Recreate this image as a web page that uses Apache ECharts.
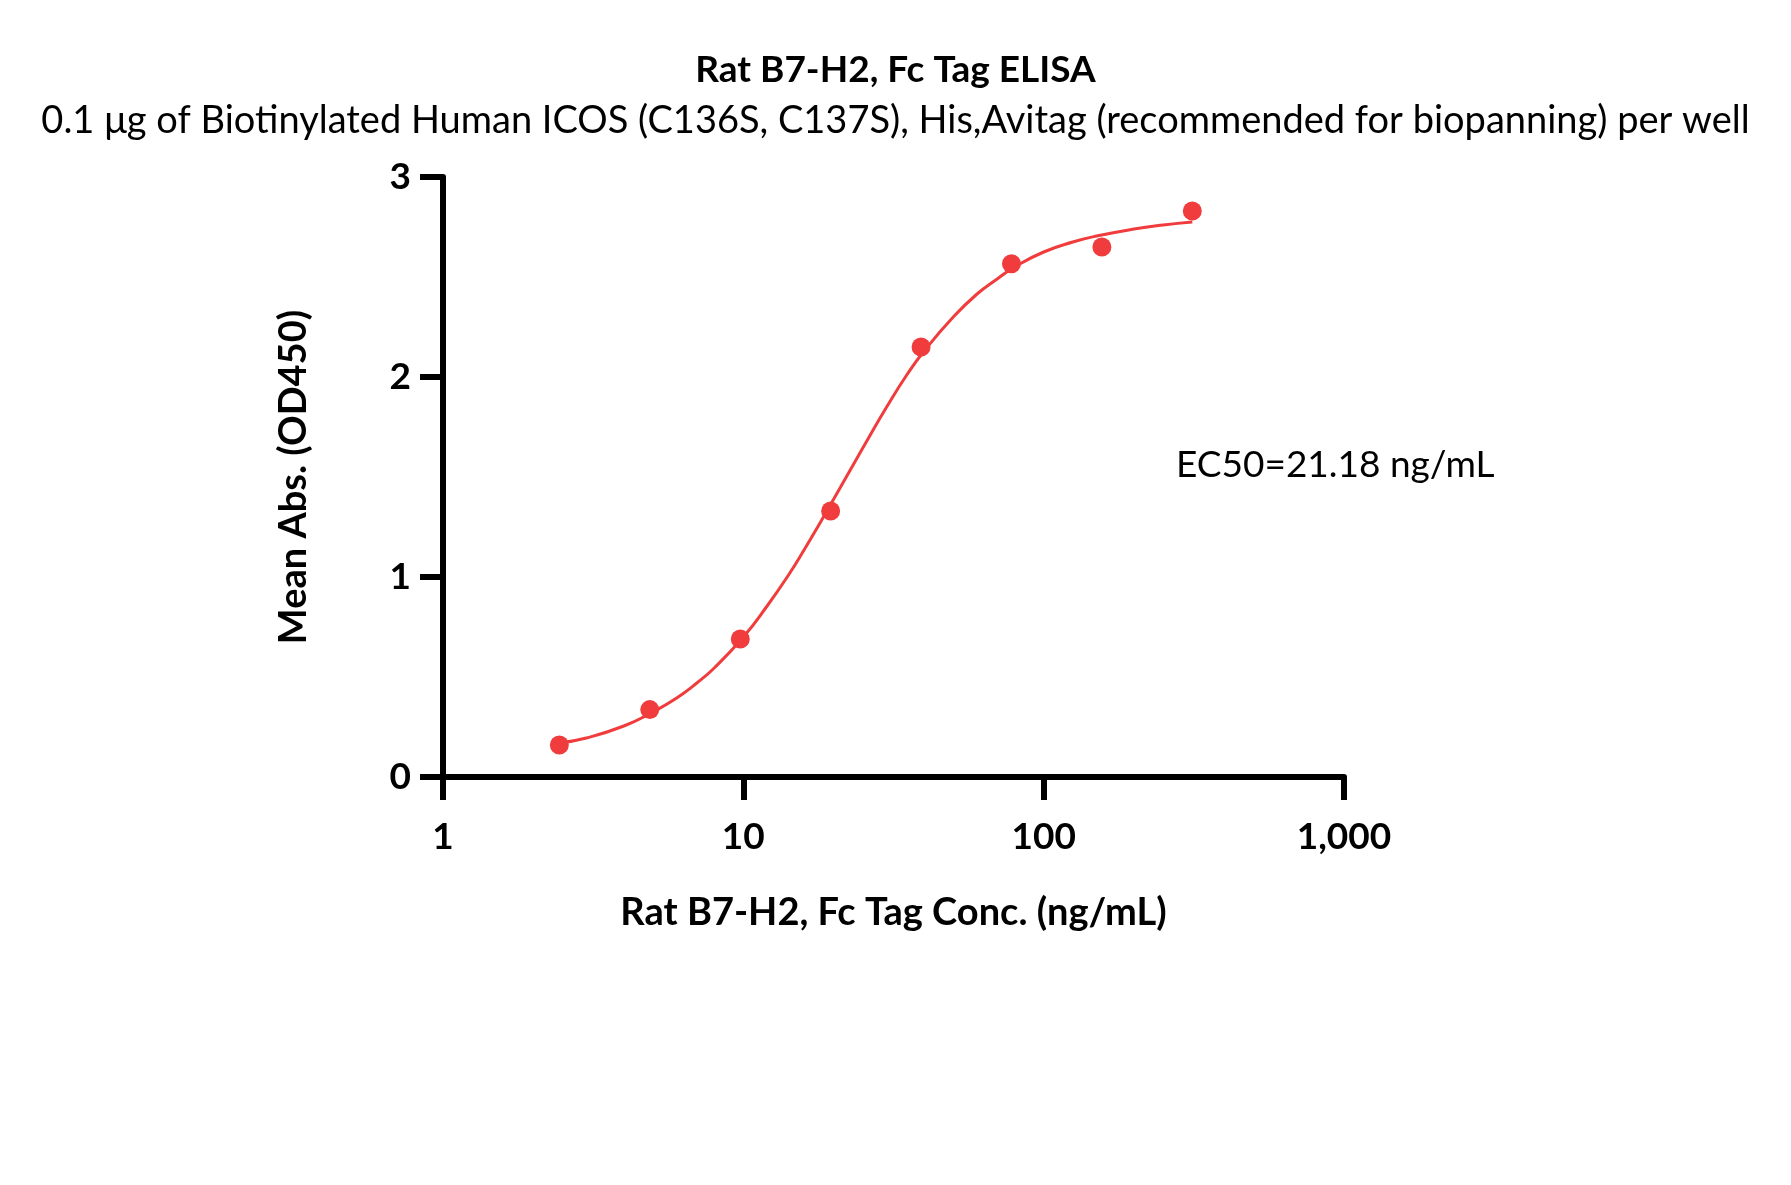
<!DOCTYPE html>
<html><head><meta charset="utf-8">
<script src="https://cdn.jsdelivr.net/npm/echarts@6/dist/echarts.min.js"></script>
<style>html,body{margin:0;padding:0;background:#fff}#c{width:1791px;height:1185px}</style>
</head><body><div id="c"></div>
<script>
// Measured points (concentration ng/mL, mean OD450)
const concentrations = [2.44, 4.88, 9.77, 19.53, 39.06, 78.13, 156.25, 312.5];
const absorbance = [0.16, 0.337, 0.69, 1.33, 2.15, 2.566, 2.65, 2.83];
// Fitted curve
const curveX = [2.44, 3, 4, 5, 6, 7, 8, 10, 12, 14, 16, 18, 20, 23, 26, 30, 35, 40, 50, 60, 70, 80, 100, 125, 150, 200, 250, 312.5];
const curveY = [0.17, 0.195, 0.255, 0.325, 0.395, 0.47, 0.545, 0.70, 0.855, 1.0, 1.14, 1.27, 1.39, 1.55, 1.69, 1.85, 2.01, 2.13, 2.30, 2.415, 2.49, 2.55, 2.625, 2.675, 2.705, 2.74, 2.76, 2.775];
const xTicks = [1, 10, 100, 1000];
const yTicks = [0, 1, 2, 3];
const titleText = 'Rat B7-H2, Fc Tag ELISA';
const subtitleText = '0.1 \u03bcg of Biotinylated Human ICOS (C136S, C137S), His,Avitag (recommended for biopanning) per well';
const xName = 'Rat B7-H2, Fc Tag Conc. (ng/mL)';
const yName = 'Mean Abs. (OD450)';
const ec50Text = 'EC50=21.18 ng/mL';

const RED = '#F03C3C';
const FONT = 'Lato, "Open Sans", sans-serif';
const chart = echarts.init(document.getElementById('c'));
chart.setOption({
  backgroundColor: '#fff',
  animation: false,
  title: [
    {text: titleText, left: 'center', top: 47, textStyle: {fontFamily: FONT, fontSize: 37, fontWeight: 'bold', color: '#000'}},
    {text: subtitleText, left: 'center', top: 97, textStyle: {fontFamily: FONT, fontSize: 38, fontWeight: 'normal', color: '#000'}}
  ],
  grid: {left: 443, right: 1791 - 1344, top: 177, bottom: 1185 - 777, containLabel: false},
  xAxis: {
    type: 'log', logBase: 10, min: 1, max: 1000,
    name: xName, nameLocation: 'middle', nameGap: 117,
    nameTextStyle: {fontFamily: FONT, fontSize: 38, fontWeight: 'bold', color: '#000'},
    axisLine: {lineStyle: {color: '#000', width: 6}},
    axisTick: {length: 23, lineStyle: {color: '#000', width: 6}},
    minorTick: {show: false},
    splitLine: {show: false},
    axisLabel: {margin: 42, fontFamily: FONT, fontSize: 37, fontWeight: 'bold', color: '#000',
      formatter: v => xTicks.includes(Math.round(v)) ? Math.round(v).toLocaleString('en-US') : ''}
  },
  yAxis: {
    type: 'value', min: 0, max: 3, interval: 1,
    name: yName, nameLocation: 'middle', nameGap: 130,
    nameTextStyle: {fontFamily: FONT, fontSize: 38, fontWeight: 'bold', color: '#000'},
    axisLine: {show: true, lineStyle: {color: '#000', width: 6}},
    axisTick: {show: true, length: 23, lineStyle: {color: '#000', width: 6}},
    splitLine: {show: false},
    axisLabel: {margin: 32, fontFamily: FONT, fontSize: 37, fontWeight: 'bold', color: '#000',
      formatter: v => yTicks.includes(v) ? String(v) : ''}
  },
  series: [
    {type: 'line', data: curveX.map((x, i) => [x, curveY[i]]), smooth: true, showSymbol: false,
     lineStyle: {color: RED, width: 3}, z: 2},
    {type: 'scatter', data: concentrations.map((x, i) => [x, absorbance[i]]), symbol: 'circle', symbolSize: 19,
     itemStyle: {color: RED, opacity: 1}, z: 3}
  ],
  graphic: [
    {type: 'text', left: 1176, top: 447, style: {text: ec50Text, fontFamily: FONT, fontSize: 37, fill: '#000'}}
  ]
});
</script></body></html>
